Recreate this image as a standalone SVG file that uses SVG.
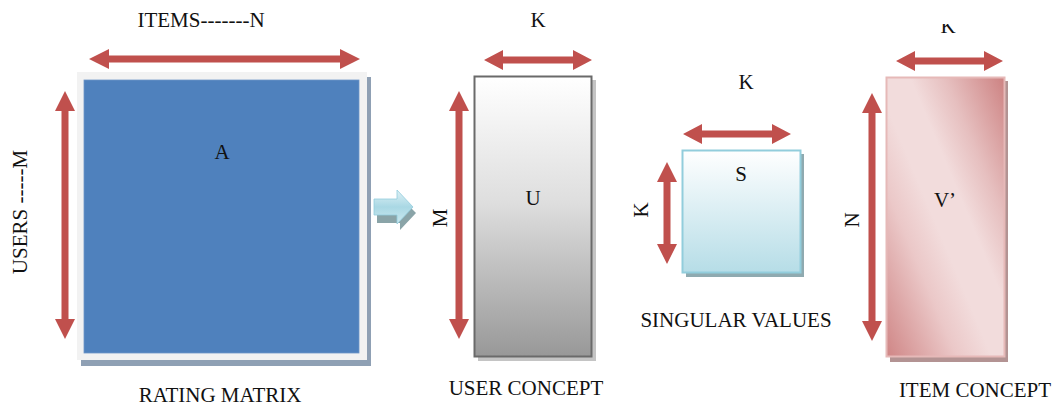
<svg xmlns="http://www.w3.org/2000/svg" width="1059" height="405" viewBox="0 0 1059 405">
  <style>
    text { font-family: "Liberation Serif", "Times New Roman", serif; font-size: 21px; fill: #111; }
    .mid { text-anchor: middle; }
    .dim { fill: #C0504D; }
  </style>
  <defs>
    <linearGradient id="gU" x1="0" y1="0" x2="0" y2="1">
      <stop offset="0" stop-color="#ffffff"/>
      <stop offset="0.45" stop-color="#dedede"/>
      <stop offset="1" stop-color="#989898"/>
    </linearGradient>
    <linearGradient id="gS" x1="0" y1="0" x2="0" y2="1">
      <stop offset="0" stop-color="#ffffff"/>
      <stop offset="1" stop-color="#b6dde7"/>
    </linearGradient>
    <linearGradient id="gV" gradientUnits="userSpaceOnUse" x1="845" y1="259" x2="1045" y2="175">
      <stop offset="0" stop-color="#cf8585"/>
      <stop offset="0.3" stop-color="#ebc8c8"/>
      <stop offset="0.45" stop-color="#f2dcdc"/>
      <stop offset="0.6" stop-color="#f2dcdc"/>
      <stop offset="0.75" stop-color="#e6bfbf"/>
      <stop offset="1" stop-color="#cd8282"/>
    </linearGradient>
    <linearGradient id="gArrow" x1="0" y1="0" x2="0" y2="1">
      <stop offset="0" stop-color="#dff1f6"/>
      <stop offset="0.5" stop-color="#a9d8e4"/>
      <stop offset="1" stop-color="#cde9f0"/>
    </linearGradient>
    <clipPath id="clipTop">
      <rect x="900" y="24" width="100" height="20"/>
    </clipPath>
  </defs>

  <!-- rating matrix A -->
  <g id="matrixA">
    <rect x="81" y="77" width="290" height="289" fill="#8fa0b4"/>
    <rect x="77" y="72" width="290" height="288" fill="#f2f2f2"/>
    <rect x="84" y="80" width="275" height="273" fill="#4f81bd" stroke="#6f97c8" stroke-width="0.8"/>
    <text class="mid" x="222" y="159">A</text>
    <text class="mid" x="201" y="27">ITEMS-------N</text>
    <text class="mid" transform="translate(27,212) rotate(-90)">USERS -----M</text>
    <text class="mid" x="220" y="402">RATING MATRIX</text>
  </g>

  <!-- block arrow between A and the factors -->
  <g id="flowArrow">
    <path d="M377,203 H400 V197 L416,213 L400,230 V223 H377 Z" fill="#8aa4a8"/>
    <path d="M374,199 H397 V190 L413,207 L397,224 V215 H374 Z" fill="url(#gArrow)" stroke="#93cddd" stroke-width="0.8"/>
  </g>

  <!-- user concept U -->
  <g id="matrixU">
    <rect x="478" y="80" width="118" height="281" fill="#c4c4c4"/>
    <rect x="474.5" y="76.5" width="117" height="280" fill="url(#gU)" stroke="#6a6a6a" stroke-width="2"/>
    <text class="mid" x="533" y="205">U</text>
    <text class="mid" x="538" y="27">K</text>
    <text class="mid" transform="translate(447,218) rotate(-90)">M</text>
    <text class="mid" x="526" y="395">USER CONCEPT</text>
  </g>

  <!-- singular values S -->
  <g id="matrixS">
    <rect x="686" y="154" width="118" height="123" fill="#8faab0"/>
    <rect x="682.5" y="150.5" width="118" height="122" fill="url(#gS)" stroke="#92cddc" stroke-width="2"/>
    <text class="mid" x="741" y="181">S</text>
    <text class="mid" x="746" y="89">K</text>
    <text class="mid" transform="translate(648,210) rotate(-90)">K</text>
    <text class="mid" x="736" y="327">SINGULAR VALUES</text>
  </g>

  <!-- item concept V' -->
  <g id="matrixV">
    <rect x="890" y="81" width="118" height="281" fill="#b39393"/>
    <rect x="886.5" y="77.5" width="118" height="279" fill="url(#gV)" stroke="#e6b9b8" stroke-width="2"/>
    <text class="mid" x="945" y="207">V’</text>
    <text class="mid" x="948" y="33" clip-path="url(#clipTop)">K</text>
    <text class="mid" transform="translate(859,220) rotate(-90)">N</text>
    <text class="mid" x="975" y="397">ITEM CONCEPT</text>
  </g>

  <!-- dimension arrows -->
  <g id="connectors">
    <!-- A: width / height -->
    <path class="dim" d="M89,59 L109,49 V55.5 H340 V49 L360,59 L340,69 V62.5 H109 V69 Z"/>
    <path class="dim" d="M65,91 L75,111 H68.5 V319 H75 L65,339 L55,319 H61.5 V111 H55 Z"/>
    <!-- U -->
    <path class="dim" d="M484,60 L503,50 V56.5 H573 V50 L592,60 L573,70 V63.5 H503 V70 Z"/>
    <path class="dim" d="M459,91 L469,111 H462.5 V319 H469 L459,339 L449,319 H455.5 V111 H449 Z"/>
    <!-- S -->
    <path class="dim" d="M683,134 L702,124 V130.5 H772 V124 L791,134 L772,144 V137.5 H702 V144 Z"/>
    <path class="dim" d="M667,162 L677,182 H670.5 V244 H677 L667,264 L657,244 H663.5 V182 H657 Z"/>
    <!-- V' -->
    <path class="dim" d="M896,61 L915,51 V57.5 H984 V51 L1003,61 L984,71 V64.5 H915 V71 Z"/>
    <path class="dim" d="M872,93 L882,113 H875.5 V321 H882 L872,341 L862,321 H868.5 V113 H862 Z"/>
  </g>
</svg>
